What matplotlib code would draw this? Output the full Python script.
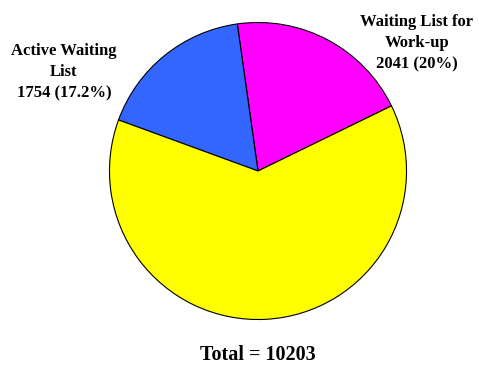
import matplotlib
matplotlib.use("Agg")
import matplotlib.pyplot as plt

# Waiting-list breakdown
categories = ["Waiting List for Work-up", "Active Waiting List", "Other"]
values = [2041, 1754, 6408]
colors = ["#FF00FF", "#3366FF", "#FFFF00"]
total = 10203

W, H = 479, 367
fig = plt.figure(figsize=(W / 100, H / 100), dpi=100)
fig.patch.set_facecolor("white")

cx, cy, r = 258, 171, 150
ax = fig.add_axes([(cx - r) / W, (H - cy - r) / H, 2 * r / W, 2 * r / H])
ax.pie(values, colors=colors, startangle=26, counterclock=True,
       wedgeprops=dict(edgecolor="black", linewidth=0.8))
ax.set_xlim(-1.01, 1.01)
ax.set_ylim(-1.01, 1.01)
ax.set_aspect("equal")
ax.axis("off")

font = dict(family="Liberation Serif", weight="bold")

def px(x, y):
    return x / W, 1 - y / H

fig.text(*px(64, 72), f"Active Waiting\nList\n{values[1]} ({values[1] / total * 100:.1f}%)",
         ha="center", va="center", fontsize=12, linespacing=1.42, **font)
fig.text(*px(417, 43), f"Waiting List for\nWork-up\n{values[0]} ({values[0] / total * 100:.0f}%)",
         ha="center", va="center", fontsize=12, linespacing=1.42, **font)
fig.text(*px(258, 355), f"Total = {total}", ha="center", va="center",
         fontsize=14.5, **font)

fig.savefig("out.png", dpi=100)
